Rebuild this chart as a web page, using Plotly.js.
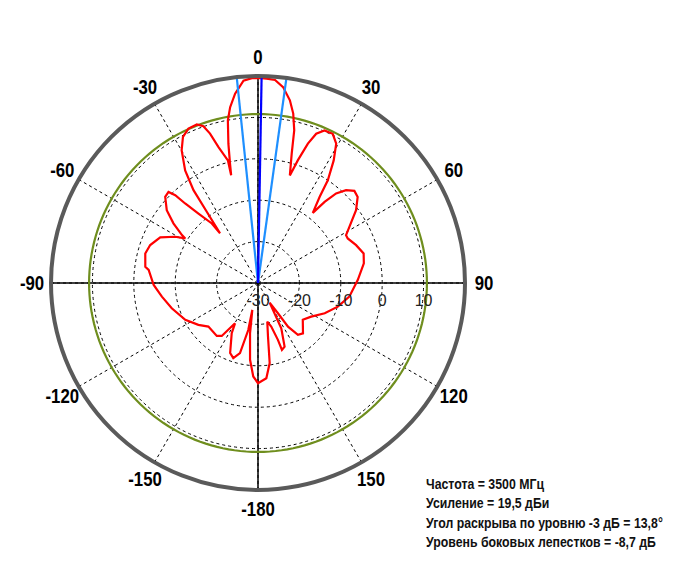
<!DOCTYPE html>
<html>
<head>
<meta charset="utf-8">
<script src="https://cdn.plot.ly/plotly-3.0.1.min.js"></script>
<style>html,body{margin:0;padding:0;background:#fff;}#chart{width:680px;height:567px;}</style>
</head>
<body>
<div id="chart"></div>
<script>
// Radiation pattern (angle in degrees, clockwise from 0 at top; level in dBi)
var patternAngle = [1, 2.4, 4.8, 7.3, 9.9, 11.75, 13.35, 14.6, 16.5, 18.0, 19.7, 21.3, 23.55, 26.6, 29.3, 31.7, 34.2, 35.6, 38.0,
  39.4, 41.1, 43.5, 46.3, 49.2, 53.4, 58.45, 61.5, 63.6, 68.9, 74.35, 79.5, 88.3, 98.5, 106.5, 114.4, 122.3, 129.4, 138.2, 142.4,
  145.5, 146.6, 149.3, 152.8, 157.3, 160.3, 160.7, 163.1, 166.5, 169.45, 171.7, 175.0, 180,
  -177.1, -174.1, -171.0, -168.1, -168.3, -165.6, -161.8, -158.3, -152.4, -150.3, -145.6, -142.1, -131.3, -125.1, -116.9, -106.3,
  -98.1, -91.1, -83.2, -81.8, -75.3, -70.6, -65.0, -60.8, -58.5, -57.8, -54.8, -51.4, -47.1, -44.5, -43.3, -42.5, -40.6, -37.8,
  -37.4, -35.7, -34.8, -32.9, -29.9, -27.2, -24.25, -21.1, -19.2, -17.8, -16.2, -13.8, -14.0, -13.2, -12.0, -10.5, -9.0, -6.9,
  -4.1, -1.7, 1];
var patternLevel = [19.5, 19.4, 19.2, 17.7, 14.8, 11.8, 7.9, 2.3, -2.9, 1.2, 5.75, 8.7, 10.2, 10.3, 8.6, 4.8, 0.0, -4.4, -8.5,
  -4.65, -1.3, 0.9, 2.2, 1.8, -0.5, -4.1, -5.8, -5.8, -4.6, -3.5, -4.0, -5.9, -7.7, -9.9, -12.3, -14.8, -16.0, -13.7, -14.2,
  -17.2, -21.25, -24.5, -17.7, -13.35, -12.85, -15.45, -19.0, -20.4, -16.8, -10.45, -6.9, -5.8,
  -7.4, -11.35, -17.7, -23.35, -18.4, -12.5, -10.9, -11.8, -16.3, -18.8, -14.5, -13.8, -14.05, -12.4, -10.3, -8.3,
  -6.55, -4.8, -3.4, -2.5, -1.85, -2.4, -3.95, -7.1, -9.4, -8.3, -5.0, -1.8, 0.6, 0.85, -0.85, -3.95, -7.9, -11.8,
  -14.9, -8.8, -2.7, 2.4, 7.0, 9.65, 10.9, 11.05, 10.1, 7.9, 4.2, 0.5, -3.2, -0.4, 4.4, 9.95, 13.0, 16.05,
  19.0, 19.5, 19.5];

var peakAngle = 1;          // main beam direction
var peakGain = 19.5;        // dBi
var beamLeft = -5.9;        // -3 dB edges
var beamRight = 7.9;
var sideLobeLevel = 10.8;   // peak - 8.7 dB

var radialTicks = [-30, -20, -10, 0, 10];
var radialLabels = ['-30', '-20', '-10', '0', '10'];
var radialRange = [-30, 20];
var angleTicks = [0, 30, 60, 90, 120, 150, 180, 210, 240, 270, 300, 330];
var angleLabels = ['0', '30', '60', '90', '120', '150', '-180', '-150', '-120', '-90', '-60', '-30'];

var infoLines = [
  'Частота = 3500 МГц',
  'Усиление = 19,5 дБи',
  'Угол раскрыва по уровню -3 дБ = 13,8°',
  'Уровень боковых лепестков = -8,7 дБ'
];

var circleTheta = [], circleR = [];
for (var a = 0; a <= 360; a += 2) { circleTheta.push(a); circleR.push(sideLobeLevel); }

var sans = 'Liberation Sans, Arial, sans-serif';
var W = 680, H = 567;
var domX = [51, 465], domY = [77, 491];   // pixel extents of the polar area (x from left, y from bottom)
var centerX = (domX[0] + domX[1]) / 2, centerY = H - (domY[0] + domY[1]) / 2;
var labelRadius = 226;

var traces = [
  {type: 'scatterpolar', mode: 'lines', theta: [90, 90, 270], r: [radialRange[1], radialRange[0], radialRange[1]],
   line: {color: '#000', width: 1.3}, hoverinfo: 'skip'},
  {type: 'scatterpolar', mode: 'lines', theta: [0, 0, 180], r: [radialRange[1], radialRange[0], radialRange[1]],
   line: {color: '#000', width: 1.5}, hoverinfo: 'skip'},
  {type: 'scatterpolar', mode: 'lines', theta: circleTheta, r: circleR,
   line: {color: '#6f8e1e', width: 2.2}, hoverinfo: 'skip'},
  {type: 'scatterpolar', mode: 'lines', theta: patternAngle, r: patternLevel,
   line: {color: '#ff0000', width: 2.2}},
  {type: 'scatterpolar', mode: 'lines', theta: [beamLeft, beamLeft], r: [radialRange[0], radialRange[1]],
   line: {color: '#1e8fff', width: 2.2}, hoverinfo: 'skip'},
  {type: 'scatterpolar', mode: 'lines', theta: [beamRight, beamRight], r: [radialRange[0], radialRange[1]],
   line: {color: '#1e8fff', width: 2.2}, hoverinfo: 'skip'},
  {type: 'scatterpolar', mode: 'lines', theta: [peakAngle, peakAngle], r: [radialRange[0], peakGain],
   line: {color: '#0000ff', width: 2.2}, hoverinfo: 'skip'}
];

var layout = {
  width: W, height: H,
  margin: {l: 0, r: 0, t: 0, b: 0},
  paper_bgcolor: '#fff',
  showlegend: false,
  polar: {
    domain: {x: [domX[0] / W, domX[1] / W], y: [domY[0] / H, domY[1] / H]},
    bgcolor: '#fff',
    angularaxis: {
      rotation: 90, direction: 'clockwise',
      tickmode: 'array', tickvals: angleTicks, ticktext: angleLabels,
      tickfont: {family: sans, size: 20, color: '#000', weight: 'bold'},
      ticks: 'outside', ticklen: 1, tickcolor: 'rgba(0,0,0,0)',
      showline: true, linecolor: '#5a5a5a', linewidth: 4,
      showgrid: true, gridcolor: '#000', gridwidth: 1, griddash: '3px,3px'
    },
    radialaxis: {
      range: radialRange, angle: 0, side: 'clockwise',
      tickmode: 'array', tickvals: radialTicks, ticktext: radialLabels,
      tickfont: {family: sans, size: 16, color: '#222'},
      ticks: 'outside', ticklen: 3, tickcolor: 'rgba(0,0,0,0)', showline: false,
      showgrid: true, gridcolor: '#000', gridwidth: 1, griddash: '3px,3px'
    }
  },
  annotations: [{
    xref: 'paper', yref: 'paper', x: 424 / W, y: 1 - 473 / H,
    xanchor: 'left', yanchor: 'top', align: 'left', showarrow: false,
    text: infoLines.map(function (s) { return '<b>' + s + '</b>'; }).join('<br>'),
    font: {family: sans, size: 15, color: '#111'}
  }]
};

// horizontally condense text (narrow-font look), keeping anchor point
function condense(el, sx, anchor) {
  var bb = el.getBBox();
  var ax = anchor === 'left' ? bb.x : bb.x + bb.width / 2;
  var prev = el.getAttribute('transform') || '';
  el.setAttribute('transform', prev + ' translate(' + ax + ',0) scale(' + sx + ',1) translate(' + (-ax) + ',0)');
}

Plotly.newPlot('chart', traces, layout, {displayModeBar: false, staticPlot: true}).then(function (gd) {
  var root = gd.getBoundingClientRect();
  gd.querySelectorAll('.angularaxistick text, g.angularaxis text').forEach(function (t) {
    condense(t, 0.84, 'center');
    var idx = angleLabels.indexOf(t.textContent);
    if (idx < 0) return;
    var ang = angleTicks[idx] * Math.PI / 180;
    var rc = t.getBoundingClientRect();
    var cx = rc.left - root.left + rc.width / 2, cy = rc.top - root.top + rc.height / 2;
    var tx = centerX + labelRadius * Math.sin(ang), ty = centerY - labelRadius * Math.cos(ang);
    var prev = t.getAttribute('transform') || '';
    t.setAttribute('transform', 'translate(' + (tx - cx) + ',' + (ty - cy) + ') ' + prev);
  });
  var ann = gd.querySelector('.annotation-text');
  if (ann) {
    var w = ann.getBBox().width;
    condense(ann, 237 / w, 'left');
  }
});
</script>
</body>
</html>
